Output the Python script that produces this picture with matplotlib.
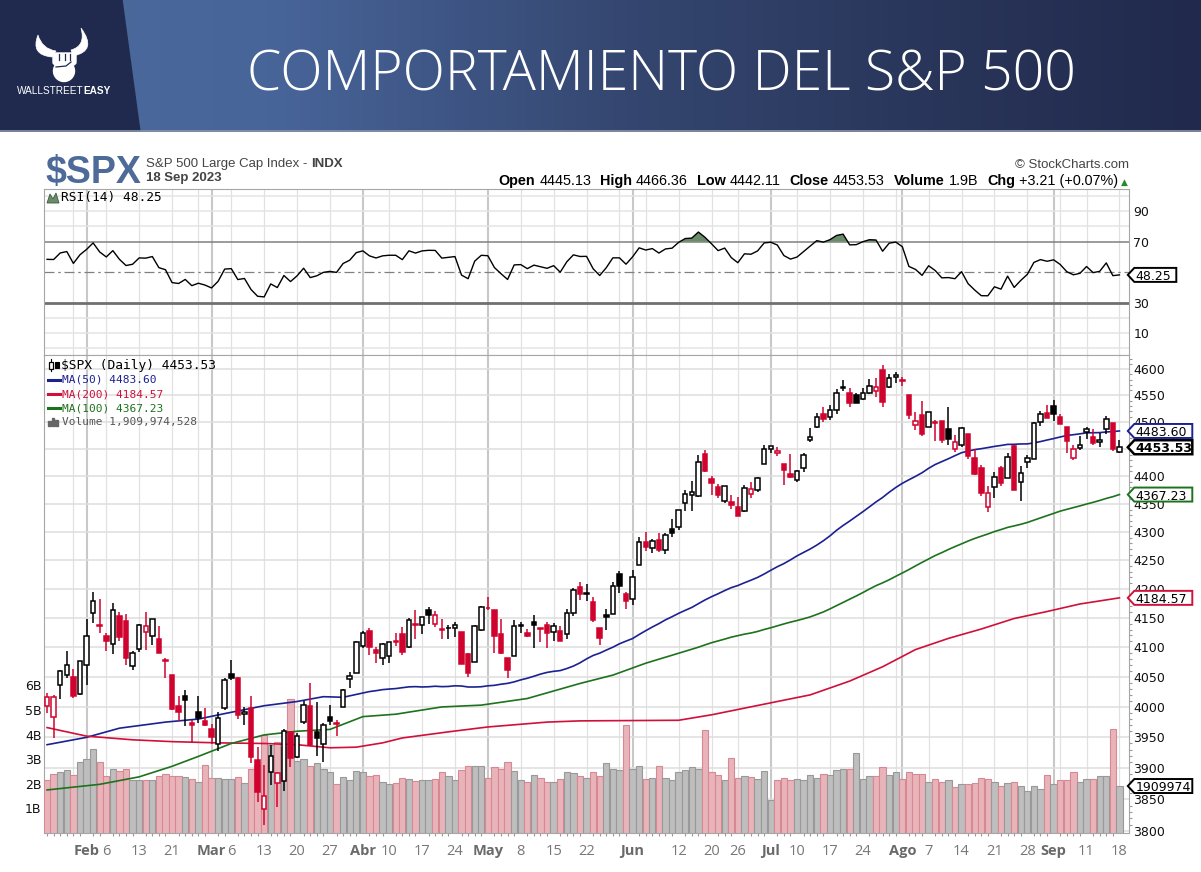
import numpy as np
import pandas as pd
import matplotlib
matplotlib.use("Agg")
import matplotlib.pyplot as plt
from matplotlib.patches import Polygon, Rectangle, Circle, FancyBboxPatch, PathPatch
from matplotlib.path import Path
from matplotlib.lines import Line2D
from matplotlib.colors import LinearSegmentedColormap
from matplotlib.ticker import FixedLocator, NullFormatter

# ---------------- datos ----------------
first_day = "2023-01-24"
last_day = "2023-09-18"
holidays = ["2023-02-20", "2023-04-07", "2023-05-29", "2023-06-19", "2023-07-04", "2023-09-04"]
prev_close = 4019.81

opens = [4001.74, 3982.71, 4036.08, 4053.72, 4049.27, 4020.85, 4070.07, 4158.68, 4136.69, 4119.57,
         4105.35, 4153.47, 4144.25, 4068.92, 4096.62, 4126.70, 4119.50, 4114.75, 4077.39, 4052.35,
         4001.83, 4018.60, 3973.24, 3992.36, 3977.19, 3963.34, 3938.68, 3998.02, 4055.15, 4048.26,
         3987.55, 3998.66, 3912.77, 3835.12, 3894.01, 3876.74, 3878.93, 3958.69, 3917.47, 3975.89,
         4002.04, 3959.21, 3939.21, 3982.93, 3974.13, 3999.53, 4046.74, 4056.18, 4102.20, 4128.03,
         4094.50, 4081.15, 4085.20, 4110.29, 4121.72, 4100.04, 4140.11, 4137.17, 4164.26, 4139.33,
         4130.48, 4132.14, 4132.07, 4126.43, 4087.78, 4075.29, 4129.63, 4166.79, 4164.10, 4122.25,
         4082.61, 4084.73, 4136.98, 4124.25, 4143.74, 4132.24, 4138.54, 4126.65, 4127.95, 4122.85,
         4157.68, 4204.15, 4190.78, 4176.80, 4132.96, 4155.71, 4156.16, 4226.71, 4190.74, 4183.03,
         4241.01, 4282.99, 4271.34, 4285.47, 4268.69, 4304.88, 4308.32, 4352.61, 4366.29, 4365.33,
         4440.95, 4396.11, 4380.01, 4355.40, 4354.17, 4344.84, 4337.36, 4367.48, 4374.94, 4422.44,
         4450.48, 4442.04, 4422.62, 4404.54, 4394.23, 4415.55, 4467.69, 4491.50, 4514.61, 4508.86,
         4521.78, 4563.87, 4554.38, 4550.16, 4543.39, 4555.19, 4558.96, 4598.26, 4565.75, 4584.82,
         4578.83, 4550.93, 4494.27, 4513.96, 4491.58, 4498.03, 4501.57, 4487.16, 4450.69, 4458.13,
         4478.87, 4433.79, 4416.32, 4344.88, 4380.28, 4415.33, 4396.44, 4455.16, 4389.38, 4426.03,
         4432.75, 4500.34, 4517.01, 4530.60, 4510.06, 4490.35, 4434.55, 4451.30, 4480.98, 4473.27,
         4462.65, 4487.78, 4497.98, 4445.13]

highs = [4023.92, 4019.55, 4061.57, 4094.21, 4063.85, 4077.16, 4148.95, 4195.44, 4182.36, 4124.63,
         4176.54, 4160.77, 4156.23, 4094.36, 4138.90, 4159.77, 4148.11, 4136.54, 4081.51, 4052.35,
         4017.37, 4028.30, 3978.25, 4018.05, 3997.50, 3971.73, 3990.84, 4048.29, 4078.49, 4050.00,
         4000.41, 4017.81, 3934.05, 3905.05, 3937.29, 3894.26, 3964.46, 3958.91, 3956.62, 4009.08,
         4039.49, 4007.66, 3972.74, 4003.83, 3979.20, 4030.59, 4057.85, 4110.75, 4127.66, 4133.13,
         4099.69, 4107.32, 4109.50, 4124.26, 4134.37, 4150.26, 4163.19, 4151.72, 4169.48, 4162.57,
         4148.57, 4138.02, 4142.41, 4126.43, 4089.67, 4138.24, 4170.06, 4186.92, 4164.10, 4148.30,
         4082.61, 4147.02, 4142.30, 4130.35, 4154.28, 4132.80, 4143.74, 4141.25, 4135.54, 4164.67,
         4202.20, 4212.91, 4209.22, 4185.68, 4132.96, 4165.74, 4212.87, 4231.10, 4195.44, 4232.43,
         4290.67, 4299.28, 4288.33, 4299.19, 4298.01, 4322.62, 4340.13, 4375.37, 4391.82, 4439.20,
         4448.47, 4400.15, 4386.22, 4382.25, 4366.55, 4362.06, 4384.42, 4390.35, 4398.39, 4458.48,
         4456.46, 4454.06, 4422.62, 4440.39, 4412.60, 4443.64, 4488.34, 4517.38, 4527.76, 4532.85,
         4562.30, 4578.43, 4564.74, 4555.00, 4563.41, 4580.62, 4582.47, 4607.07, 4590.16, 4594.22,
         4584.62, 4550.93, 4519.49, 4540.34, 4519.84, 4503.31, 4502.44, 4527.37, 4476.23, 4490.33,
         4478.87, 4449.95, 4421.17, 4381.82, 4407.55, 4418.59, 4443.18, 4458.30, 4418.46, 4439.56,
         4500.14, 4521.65, 4532.26, 4541.25, 4514.29, 4490.35, 4457.81, 4473.53, 4490.77, 4487.11,
         4479.39, 4511.99, 4497.98, 4466.36]

lows = [3989.79, 3949.06, 4013.29, 4048.70, 4015.55, 4020.44, 4037.20, 4141.88, 4123.36, 4093.38,
        4088.39, 4111.35, 4069.67, 4060.79, 4092.67, 4095.01, 4103.98, 4089.49, 4047.95, 3995.19,
        3976.90, 3969.19, 3943.08, 3973.55, 3968.98, 3939.05, 3928.16, 3995.17, 4044.61, 3980.31,
        3969.76, 3908.70, 3846.32, 3808.86, 3873.63, 3838.24, 3864.11, 3901.27, 3916.89, 3971.19,
        3936.17, 3919.05, 3909.16, 3970.49, 3951.53, 3999.53, 4032.10, 4056.18, 4098.79, 4086.87,
        4072.56, 4069.84, 4072.55, 4102.61, 4086.94, 4099.40, 4113.20, 4123.18, 4140.36, 4134.49,
        4114.57, 4113.86, 4117.77, 4071.38, 4049.35, 4075.29, 4127.18, 4164.12, 4089.72, 4088.86,
        4048.28, 4084.73, 4123.81, 4116.65, 4098.92, 4109.29, 4099.12, 4110.27, 4109.86, 4113.62,
        4153.50, 4180.20, 4179.68, 4142.54, 4103.98, 4129.73, 4156.16, 4192.18, 4166.15, 4171.64,
        4241.01, 4266.82, 4263.09, 4263.96, 4261.07, 4291.70, 4304.37, 4337.66, 4337.85, 4362.60,
        4407.44, 4367.19, 4360.14, 4351.82, 4341.34, 4328.08, 4335.00, 4360.22, 4371.97, 4422.44,
        4442.29, 4436.61, 4385.05, 4397.40, 4389.92, 4408.46, 4463.23, 4489.36, 4499.56, 4504.90,
        4514.59, 4557.48, 4527.56, 4535.79, 4541.29, 4552.42, 4547.58, 4528.56, 4564.01, 4573.14,
        4567.53, 4505.75, 4485.54, 4474.55, 4491.15, 4464.39, 4461.33, 4457.92, 4443.98, 4453.44,
        4432.19, 4403.55, 4364.83, 4335.31, 4360.30, 4382.77, 4396.44, 4375.55, 4356.29, 4414.98,
        4431.68, 4493.59, 4507.39, 4501.35, 4496.01, 4442.38, 4430.46, 4448.38, 4467.89, 4456.83,
        4453.52, 4478.69, 4447.21, 4442.11]

closes = [4016.95, 4016.22, 4060.43, 4070.56, 4017.77, 4076.60, 4119.21, 4179.76, 4136.48, 4111.08,
          4164.00, 4117.86, 4081.50, 4090.46, 4137.29, 4136.13, 4147.60, 4090.41, 4079.09, 3997.34,
          3991.05, 4012.32, 3970.04, 3982.24, 3970.15, 3951.39, 3981.35, 4045.64, 4048.42, 3986.37,
          3992.01, 3918.32, 3861.59, 3855.76, 3919.29, 3891.93, 3960.28, 3916.64, 3951.57, 4002.87,
          3936.97, 3948.72, 3970.99, 3977.53, 3971.27, 4027.81, 4050.83, 4109.31, 4124.51, 4100.60,
          4090.38, 4105.02, 4109.11, 4108.94, 4091.95, 4146.22, 4137.64, 4151.32, 4154.87, 4154.52,
          4129.79, 4133.52, 4137.04, 4071.63, 4055.99, 4135.35, 4169.48, 4167.87, 4119.58, 4090.75,
          4061.22, 4136.25, 4138.12, 4119.17, 4137.64, 4130.62, 4124.08, 4136.28, 4109.90, 4158.77,
          4198.05, 4191.98, 4192.63, 4145.58, 4115.24, 4151.28, 4205.45, 4205.52, 4179.83, 4221.02,
          4282.37, 4273.79, 4283.85, 4267.52, 4293.93, 4298.86, 4338.93, 4369.01, 4372.59, 4425.84,
          4409.59, 4388.71, 4365.69, 4381.89, 4348.33, 4328.82, 4378.41, 4376.86, 4396.44, 4450.38,
          4455.59, 4446.82, 4411.59, 4398.95, 4409.53, 4439.26, 4472.16, 4510.04, 4505.42, 4522.79,
          4554.98, 4565.72, 4534.87, 4536.34, 4554.64, 4567.46, 4566.75, 4537.41, 4582.23, 4588.96,
          4576.73, 4513.39, 4501.89, 4478.03, 4518.44, 4499.38, 4467.71, 4468.83, 4464.05, 4489.72,
          4437.86, 4404.33, 4370.36, 4369.71, 4399.77, 4387.55, 4436.01, 4376.31, 4405.71, 4433.31,
          4497.63, 4514.87, 4507.66, 4515.77, 4496.83, 4465.48, 4451.14, 4457.49, 4487.46, 4461.90,
          4467.44, 4505.10, 4450.32, 4453.53]

# volumen en miles de millones
vol_b = [2.17, 2.39, 2.48, 2.55, 2.35, 2.89, 3.00, 3.40, 2.89, 2.31,
         2.59, 2.51, 2.59, 2.17, 2.17, 2.17, 2.17, 2.33, 2.39, 2.33,
         2.31, 2.29, 2.18, 2.06, 2.75, 2.22, 2.22, 2.21, 2.18, 2.29,
         2.02, 2.59, 2.75, 4.00, 3.58, 3.68, 3.50, 5.43, 2.93, 3.00,
         2.72, 2.83, 2.59, 2.47, 1.98, 2.29, 2.14, 2.52, 2.47, 2.30,
         2.34, 2.06, 1.98, 2.05, 2.25, 2.20, 2.11, 2.17, 2.17, 2.21,
         2.49, 2.30, 2.17, 2.55, 2.71, 2.71, 2.71, 2.25, 2.67, 2.59,
         2.89, 2.53, 2.17, 2.09, 2.35, 2.25, 2.09, 2.09, 2.19, 2.47,
         2.43, 2.31, 2.25, 2.47, 2.31, 2.84, 2.59, 2.55, 4.39, 2.59,
         2.71, 2.19, 2.25, 2.71, 2.25, 2.15, 2.47, 2.55, 2.67, 2.59,
         4.17, 2.47, 2.35, 2.15, 3.04, 2.25, 2.31, 2.27, 2.19, 2.51,
         1.36, 2.15, 2.25, 2.15, 2.19, 2.15, 2.35, 2.25, 2.39, 2.35,
         2.55, 2.59, 2.59, 3.24, 2.19, 2.31, 2.31, 2.67, 2.35, 2.47,
         2.19, 2.47, 2.39, 2.39, 2.06, 2.19, 2.06, 2.15, 1.87, 2.00,
         2.00, 2.03, 2.25, 2.19, 2.06, 1.90, 2.03, 2.06, 1.90, 1.69,
         1.90, 1.79, 2.35, 2.00, 2.15, 2.15, 2.47, 2.06, 2.19, 2.19,
         2.31, 2.31, 4.21, 1.909974528]

# medias moviles (tramo sin historia suficiente en los cierres)
ma50_dates = ["2023-01-24", "2023-02-01", "2023-02-08", "2023-02-17", "2023-02-27", "2023-03-03",
              "2023-03-13", "2023-03-20", "2023-03-24", "2023-03-29"]
ma50_vals = [3938, 3950, 3965, 3975, 3980, 3989, 4002, 4009, 4017, 4016]

ma100_dates = ["2023-01-24", "2023-02-03", "2023-02-13", "2023-02-21", "2023-02-27", "2023-03-06",
               "2023-03-13", "2023-03-20", "2023-03-27", "2023-04-03", "2023-04-11", "2023-04-20",
               "2023-04-28", "2023-05-09", "2023-05-19", "2023-05-26", "2023-06-05"]
ma100_vals = [3865, 3874, 3886, 3903, 3919, 3940, 3954, 3960, 3963, 3984, 3988, 4000,
              4003, 4014, 4039, 4053, 4073]

ma200_dates = ["2023-01-24", "2023-02-01", "2023-02-10", "2023-02-21", "2023-03-02", "2023-03-13",
               "2023-03-20", "2023-03-27", "2023-03-31", "2023-04-06", "2023-04-12", "2023-04-21",
               "2023-05-01", "2023-05-12", "2023-05-19", "2023-06-12", "2023-06-20", "2023-07-05",
               "2023-07-12", "2023-07-20", "2023-07-27", "2023-08-03", "2023-08-10", "2023-08-17",
               "2023-08-24", "2023-08-31", "2023-09-08", "2023-09-18"]
ma200_vals = [3966, 3952, 3946, 3943, 3941, 3940, 3938, 3933, 3934, 3941, 3949, 3959,
              3967, 3975, 3977, 3978, 3987, 4009, 4020, 4043, 4067, 4096, 4115, 4131,
              4149, 4161, 4174, 4184.57]

# valores finales tal como aparecen en la leyenda
ma50_last = 4483.60
ma100_last = 4367.23
ma200_last = 4184.57

rsi_seed_gain = 20.0
rsi_seed_loss = 14.0

tick_dates = ["2023-02-01", "2023-02-06", "2023-02-13", "2023-02-21", "2023-03-01", "2023-03-06",
              "2023-03-13", "2023-03-20", "2023-03-27", "2023-04-03", "2023-04-10", "2023-04-17",
              "2023-04-24", "2023-05-01", "2023-05-08", "2023-05-15", "2023-05-22", "2023-06-01",
              "2023-06-12", "2023-06-20", "2023-06-26", "2023-07-03", "2023-07-10", "2023-07-17",
              "2023-07-24", "2023-08-01", "2023-08-07", "2023-08-14", "2023-08-21", "2023-08-28",
              "2023-09-01", "2023-09-11", "2023-09-18"]
tick_labels = ["Feb", "6", "13", "21", "Mar", "6", "13", "20", "27", "Abr", "10", "17", "24",
               "May", "8", "15", "22", "Jun", "12", "20", "26", "Jul", "10", "17", "24",
               "Ago", "7", "14", "21", "28", "Sep", "11", "18"]
month_labels = ["Feb", "Mar", "Abr", "May", "Jun", "Jul", "Ago", "Sep"]

price_ticks = list(range(3800, 4601, 50))
hidden_price_ticks = [4450]
vol_ticks = [1, 2, 3, 4, 5, 6]
rsi_ticks = [10, 30, 70, 90]

# ---------------- preparacion ----------------
days = pd.bdate_range(first_day, last_day).drop(pd.to_datetime(holidays))
n = len(days)
x = np.arange(n)
o = np.array(opens); h = np.array(highs); l = np.array(lows); c = np.array(closes)
v = np.array(vol_b)

prev = np.concatenate([[prev_close], c[:-1]])
up_day = c >= prev
hollow = c > o
RED = "#d0022e"
cand_col = np.where(up_day, "#000000", RED)

delta = c - prev
ag, al = rsi_seed_gain, rsi_seed_loss
rsi = []
for d in delta:
    ag = (ag * 13 + max(d, 0)) / 14
    al = (al * 13 + max(-d, 0)) / 14
    rsi.append(100 - 100 / (1 + ag / al))
rsi = np.array(rsi)


def idx(dates):
    return days.get_indexer(pd.to_datetime(dates))


def ma_line(dates, vals, window):
    # tramo leido + media movil calculada cuando ya hay cierres suficientes
    roll = pd.Series(c).rolling(window).mean().to_numpy()
    xi = idx(dates)
    keep = xi < window - 1
    xs = np.concatenate([xi[keep], x[window - 1:]])
    ys = np.concatenate([np.array(vals, dtype=float)[keep], roll[window - 1:]])
    return xs, ys


ma50_x, ma50_y = ma_line(ma50_dates, ma50_vals, 50)
ma100_x, ma100_y = ma_line(ma100_dates, ma100_vals, 100)
ma200_x, ma200_y = idx(ma200_dates), np.array(ma200_vals, dtype=float)

week_start = [i for i in range(1, n) if days[i].isocalendar()[1] != days[i - 1].isocalendar()[1]]
month_start = [i for i in range(1, n) if days[i].month != days[i - 1].month]

# ---------------- figura ----------------
W, H = 1201, 872
fig = plt.figure(figsize=(W / 100, H / 100), dpi=100)
fig.patch.set_facecolor("white")


def fx(px):
    return px / W


def fy(py):
    return 1 - py / H


# banda superior
axb = fig.add_axes([0, fy(132), 1, 132 / H])
axb.set_xlim(0, W); axb.set_ylim(132, 0); axb.axis("off")
cmap = LinearSegmentedColormap.from_list(
    "banda", [(0, "#4c6a9b"), (0.22, "#48659a"), (0.53, "#34466f"), (0.8, "#283458"), (1, "#212a4d")])
axb.imshow(np.linspace(0, 1, 600).reshape(1, -1), extent=(0, W, 132, 0), aspect="auto", cmap=cmap)
axb.add_patch(Polygon([(0, 0), (122, 0), (140, 132), (0, 132)], closed=True, color="#1f2a4e"))
axb.axhline(131.4, color="#8b94a8", lw=1.2)

# logo (aprox.)
horn_l = Path([(52, 57), (30, 55), (38, 35), (42, 49), (56, 51), (52, 57)],
              [Path.MOVETO, Path.CURVE3, Path.CURVE3, Path.CURVE3, Path.CURVE3, Path.CLOSEPOLY])
horn_r = Path([(73, 56), (98, 51), (81, 28), (86, 46), (71, 50), (73, 56)],
              [Path.MOVETO, Path.CURVE3, Path.CURVE3, Path.CURVE3, Path.CURVE3, Path.CLOSEPOLY])
axb.add_patch(PathPatch(horn_l, fc="white", ec="white", lw=0.5))
axb.add_patch(PathPatch(horn_r, fc="white", ec="white", lw=0.5))
axb.add_patch(Circle((64, 71), 10.5, color="white"))
axb.add_patch(FancyBboxPatch((53, 53), 23, 12, boxstyle="round,pad=0,rounding_size=3", color="white"))
for xx in (59, 64.5, 70):
    axb.plot([xx, xx], [54, 60], color="#1f2a4e", lw=0.9)
axb.plot([56, 66, 71], [67, 66, 62], color="#1f2a4e", lw=0.9)
t1 = fig.text(fx(17), fy(93.5), "WALLSTREET", color="white", fontsize=7.2,
              family="Liberation Sans", va="baseline")
renderer = fig.canvas.get_renderer()
bb = t1.get_window_extent(renderer)
fig.text(bb.x1 / W, fy(93.5), "EASY", color="white", fontsize=7.2, family="Liberation Sans",
         weight="bold", va="baseline")

title = fig.text(fx(661.5), fy(90.5), "COMPORTAMIENTO DEL S&P 500", color="white", fontsize=40,
                 family="Open Sans", weight="light", ha="center", va="baseline")
tw = title.get_window_extent(renderer).width
title.set_fontsize(40 * 827 / tw)

# cabecera del grafico
fig.text(fx(45), fy(182.5), "$SPX", color="#4d6a98", fontsize=27, family="Liberation Sans",
         weight="bold", va="baseline")
t2 = fig.text(fx(146), fy(167), "S&P 500 Large Cap Index - ", color="#444444", fontsize=9.5,
              family="Liberation Sans", va="baseline")
bb = t2.get_window_extent(renderer)
fig.text(bb.x1 / W, fy(167), "INDX", color="#444444", fontsize=9.5, family="Liberation Sans",
         weight="bold", va="baseline")
fig.text(fx(146), fy(181), days[-1].strftime("%d %b %Y"), color="#444444", fontsize=9.5,
         family="Liberation Sans", weight="bold", va="baseline")
fig.text(fx(1129), fy(168), "\u00a9 StockCharts.com", color="#444444", fontsize=9.5,
         family="Liberation Sans", ha="right", va="baseline")

chg = c[-1] - c[-2]
pct = chg / c[-2] * 100
items = [("Open", "bold"), (f"{o[-1]:.2f}", "normal"), ("High", "bold"), (f"{h[-1]:.2f}", "normal"),
         ("Low", "bold"), (f"{l[-1]:.2f}", "normal"), ("Close", "bold"), (f"{c[-1]:.2f}", "normal"),
         ("Volume", "bold"), (f"{v[-1]:.1f}B", "normal"), ("Chg", "bold"),
         (f"{chg:+.2f} ({pct:+.2f}%)", "normal")]
xr = 1128
ta = fig.text(fx(xr), fy(185), "\u25b2", color="#2a8a2a", fontsize=6.5, ha="right", va="baseline")
xr = ta.get_window_extent(renderer).x0 - 3
for s, wgt in reversed(items):
    t = fig.text(xr / W, fy(185), s, color="black", fontsize=10.4, family="Liberation Sans",
                 weight=wgt, ha="right", va="baseline")
    x0 = t.get_window_extent(renderer).x0
    xr = x0 - (4 if wgt == "normal" else 9)

# ---------------- paneles ----------------
L_PX, R_PX = 44.3, 1129.3
xlim = (-0.42, 164.5)
ax_r = fig.add_axes([fx(L_PX), fy(355), (R_PX - L_PX) / W, (355 - 189) / H])
ax_p = fig.add_axes([fx(L_PX), fy(833), (R_PX - L_PX) / W, (833 - 355) / H])
ax_v = ax_p.twinx()
ax_c = fig.add_axes(ax_p.get_position().bounds, label="velas")
ax_p.set_zorder(1); ax_v.set_zorder(2); ax_c.set_zorder(3)
ax_v.patch.set_visible(False); ax_c.patch.set_visible(False)

SP = "#a6a6a6"
for ax in (ax_r, ax_p):
    for s in ax.spines.values():
        s.set_color(SP)
for s in ax_v.spines.values():
    s.set_visible(False)

# rejilla vertical
for ax in (ax_r, ax_p):
    for i in week_start:
        if i not in month_start:
            ax.axvline(i, color="#e1e1e1", lw=0.9, zorder=0)
    for i in month_start:
        ax.axvline(i, color="#c8c8c8", lw=1.5, zorder=0)

# RSI
ax_r.set_xlim(*xlim)
ax_r.set_ylim(-4.3, 104.6)
for lv in (0, 10, 20, 80, 90, 100):
    ax_r.axhline(lv, color="#e4e4e4", lw=1.1, zorder=0)
ax_r.axhline(70, color="#808080", lw=1.1, zorder=1)
ax_r.axhline(30, color="#707070", lw=2.0, zorder=1)
ax_r.axhline(50, color="#808080", lw=0.9, dashes=(8, 3, 2, 3), zorder=1)
ax_r.fill_between(x, rsi, 70, where=rsi >= 70, interpolate=True, color="#6b8c6b", lw=0, zorder=2)
ax_r.plot(x, rsi, color="black", lw=1.0, zorder=3)
ax_r.yaxis.tick_right()
ax_r.set_yticks(rsi_ticks)
ax_r.set_yticklabels([str(t) for t in rsi_ticks])
ax_r.tick_params(axis="y", length=0, pad=3, labelsize=9, labelcolor="#111111")
ax_r.set_xticks([])

# precio (escala log)
ylim_p = (3796.8, 4626.7)
for ax in (ax_p, ax_c):
    ax.set_yscale("log")
    ax.set_xlim(*xlim)
    ax.set_ylim(*ylim_p)
for lv in price_ticks:
    ax_p.axhline(lv, color="#dedede", lw=1.1, zorder=0)
ax_p.yaxis.tick_right()
ax_p.yaxis.set_major_locator(FixedLocator(price_ticks))
ax_p.yaxis.set_major_formatter(
    plt.FuncFormatter(lambda val, pos: "" if round(val) in hidden_price_ticks else f"{val:.0f}"))
ax_p.yaxis.set_minor_locator(FixedLocator(list(range(3800, 4621, 10))))
ax_p.yaxis.set_minor_formatter(NullFormatter())
ax_p.tick_params(axis="y", which="major", length=0, pad=3, labelsize=9, labelcolor="#111111")
ax_p.tick_params(axis="y", which="minor", length=2.5, color="#9a9a9a", width=0.8)

ax_p.set_xticks(idx(tick_dates))
ax_p.set_xticklabels(tick_labels)
ax_p.xaxis.set_minor_locator(FixedLocator(x))
ax_p.tick_params(axis="x", which="major", length=0, pad=8, labelsize=10.5, labelcolor="#777777")
ax_p.tick_params(axis="x", which="minor", length=2.5, color="#9a9a9a", width=0.8)
for lab in ax_p.get_xticklabels():
    lab.set_family("Open Sans")
    if lab.get_text() in month_labels:
        lab.set_fontweight("bold")
        lab.set_color("#6a6a6a")

# volumen
ax_v.set_ylim(0, (833 - 355) / 24.6)
ax_v.yaxis.tick_left()
ax_v.set_yticks(vol_ticks)
ax_v.set_yticklabels([f"{t}B" for t in vol_ticks])
ax_v.tick_params(axis="y", length=0, pad=2, labelsize=9, labelcolor="#111111")
ax_v.bar(x, v, width=0.96, color=np.where(up_day, "#bebebe", "#e8b4ba"),
         edgecolor=np.where(up_day, "#999999", "#d68893"), linewidth=0.8, zorder=1)

# medias moviles
ma50_col, ma200_col, ma100_col = "#1b2191", "#d0103a", "#1d721d"
ax_c.plot(ma50_x, ma50_y, color=ma50_col, lw=1.2, zorder=1)
ax_c.plot(ma200_x, ma200_y, color=ma200_col, lw=1.2, zorder=1)
ax_c.plot(ma100_x, ma100_y, color=ma100_col, lw=1.2, zorder=1)

# velas
ax_c.vlines(x, l, h, colors=cand_col, lw=1.1, zorder=2)
body_lo = np.minimum(o, c)
body_h = np.maximum(np.abs(c - o), 0.8)
ax_c.bar(x, body_h, bottom=body_lo, width=0.68, color=np.where(hollow, "white", cand_col),
         edgecolor=cand_col, linewidth=1.1, zorder=3)
ax_c.axis("off")


# leyendas
def P(px, py):
    return (px / W, 1 - py / H)


mono = "DejaVu Sans Mono"
fig.text(fx(61), fy(365), f"$SPX (Daily) {c[-1]:.2f}", fontsize=9.3, family=mono, color="black",
         va="center", zorder=15)
fig.add_artist(Rectangle(P(49, 369), 4 / W, 7 / H, transform=fig.transFigure, fc="white",
                         ec="black", lw=0.9, zorder=15))
fig.add_artist(Line2D([P(51, 359)[0], P(51, 371)[0]], [P(51, 359)[1], P(51, 371)[1]],
                      transform=fig.transFigure, color="black", lw=0.8, zorder=14))
fig.add_artist(Rectangle(P(55, 368), 4 / W, 6 / H, transform=fig.transFigure, fc="black",
                         ec="black", lw=0.8, zorder=15))
leg = [(f"MA(50) {ma50_last:.2f}", ma50_col, 380),
       (f"MA(200) {ma200_last:.2f}", ma200_col, 394),
       (f"MA(100) {ma100_last:.2f}", ma100_col, 408)]
for s, col, yy in leg:
    fig.text(fx(62), fy(yy), s, fontsize=8, family=mono, color=col, va="center", zorder=15)
    fig.add_artist(Line2D([fx(48), fx(60)], [fy(yy), fy(yy)], transform=fig.transFigure,
                          color=col, lw=2.2, zorder=15))
fig.text(fx(62), fy(421.5), f"Volume {int(round(v[-1] * 1e9)):,}", fontsize=8, family=mono,
         color="#555555", va="center", zorder=15)
for bx, bh in ((48, 5), (51.5, 8), (55, 6)):
    fig.add_artist(Rectangle(P(bx, 426), 2.6 / W, bh / H, transform=fig.transFigure,
                             color="#666666", zorder=15))
fig.text(fx(61), fy(198), f"RSI(14) {rsi[-1]:.2f}", fontsize=9.3, family=mono, color="black",
         va="center", zorder=15)
fig.add_artist(Polygon([P(47, 203), P(50, 194), P(53, 199), P(56, 193), P(59, 203)], closed=True,
                       transform=fig.transFigure, fc="#6b8c6b", ec="#3d5a3d", lw=0.6, zorder=15))


# cajas de valor en el eje derecho
def value_box(ax, val, text, edge, bold=False):
    yd = ax.transData.transform((0, val))[1]
    w = 7 + 8.0 * len(text)
    x0 = R_PX
    pts = [(x0 - 1.5, yd), (x0 + 5, yd + 7), (x0 + w, yd + 7), (x0 + w, yd - 7), (x0 + 5, yd - 7)]
    fig.add_artist(Polygon([(a / W, b / H) for a, b in pts], closed=True, transform=fig.transFigure,
                           fc="white", ec=edge, lw=1.4 if not bold else 1.8, zorder=20))
    fig.text((x0 + 6) / W, yd / H, text, fontsize=9, family="DejaVu Sans", color="black",
             weight="bold" if bold else "normal", va="center_baseline", zorder=21)


value_box(ax_p, ma50_last, f"{ma50_last:.2f}", ma50_col)
value_box(ax_p, c[-1], f"{c[-1]:.2f}", "black", bold=True)
value_box(ax_p, ma100_last, f"{ma100_last:.2f}", ma100_col)
value_box(ax_p, ma200_last, f"{ma200_last:.2f}", ma200_col)
value_box(ax_v, v[-1], f"{int(round(v[-1] * 1e9)) // 1000}", "black")
value_box(ax_r, rsi[-1], f"{rsi[-1]:.2f}", "black")

fig.savefig("out.png", dpi=100)
